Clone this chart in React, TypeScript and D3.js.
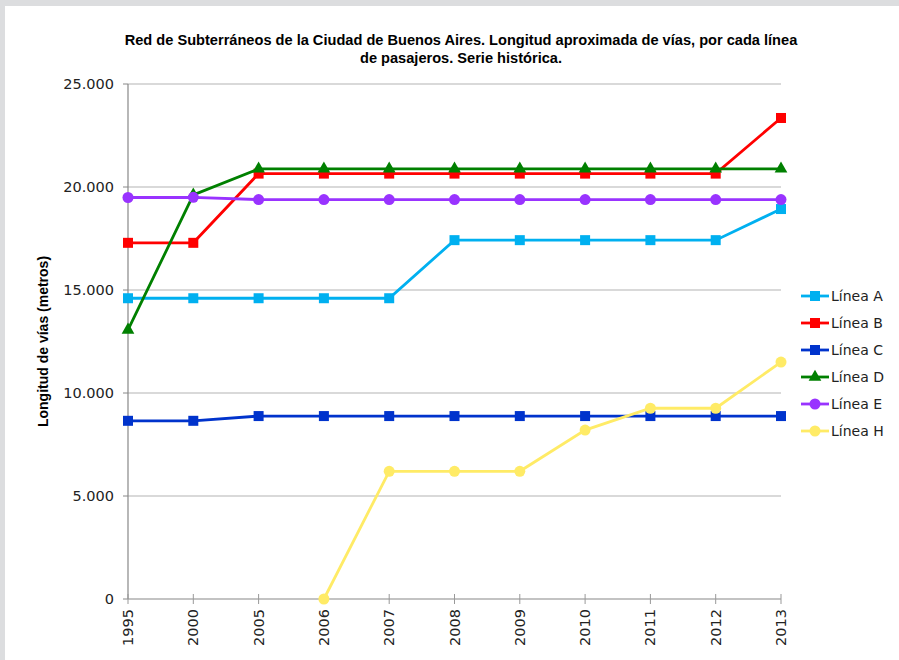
import * as d3 from "d3";

const W = 899;
const H = 660;
const M = { top: 84, right: 118, bottom: 61, left: 128 };

const YEARS = ["1995", "2000", "2005", "2006", "2007", "2008", "2009", "2010", "2011", "2012", "2013"];
const Y_TICKS = [0, 5000, 10000, 15000, 20000, 25000];

const LINEA_A = [14600, 14600, 14600, 14600, 14600, 17420, 17420, 17420, 17420, 17420, 18930];
const LINEA_B = [17290, 17290, 20650, 20650, 20650, 20650, 20650, 20650, 20650, 20650, 23350];
const LINEA_C = [8650, 8650, 8880, 8880, 8880, 8880, 8880, 8880, 8880, 8880, 8880];
const LINEA_D = [13060, 19620, 20880, 20880, 20880, 20880, 20880, 20880, 20880, 20880, 20880];
const LINEA_E = [19490, 19500, 19390, 19390, 19390, 19390, 19390, 19390, 19390, 19390, 19390];
const LINEA_H = [null, null, null, 0, 6200, 6200, 6200, 8200, 9260, 9260, 11500];

type Marker = "square" | "triangle" | "circle";
interface Serie {
  name: string;
  values: (number | null)[];
  color: string;
  marker: Marker;
}

const SERIES: Serie[] = [
  { name: "Línea A", values: LINEA_A, color: "#00b0f0", marker: "square" },
  { name: "Línea B", values: LINEA_B, color: "#ff0000", marker: "square" },
  { name: "Línea C", values: LINEA_C, color: "#0033cc", marker: "square" },
  { name: "Línea D", values: LINEA_D, color: "#008000", marker: "triangle" },
  { name: "Línea E", values: LINEA_E, color: "#9933ff", marker: "circle" },
  { name: "Línea H", values: LINEA_H, color: "#ffeb66", marker: "circle" },
];

const fmt = (v: number) => d3.format(",")(v).replace(/,/g, ".");

function MarkerShape({ type, x, y, color }: { type: Marker; x: number; y: number; color: string }) {
  if (type === "square") return <rect x={x - 5} y={y - 5} width={10} height={10} fill={color} />;
  if (type === "circle") return <circle cx={x} cy={y} r={5.5} fill={color} />;
  const tri = d3.symbol(d3.symbolTriangle, 70)() as string;
  return <path d={tri} transform={`translate(${x},${y})`} fill={color} />;
}

export default function App() {
  const x = d3
    .scalePoint<string>()
    .domain(YEARS)
    .range([M.left, W - M.right]);
  const y = d3
    .scaleLinear()
    .domain([0, 25000])
    .range([H - M.bottom, M.top]);

  const line = d3
    .line<number | null>()
    .defined((d) => d !== null)
    .x((_, i) => x(YEARS[i])!)
    .y((d) => y(d as number));

  const axisFont = "'DejaVu Sans', sans-serif";
  const condFont = "'Liberation Sans Narrow', 'Liberation Sans', sans-serif";

  return (
    <svg
      width={W}
      height={H}
      style={{ position: "absolute", left: 0, top: 0, display: "block" }}
    >
      <rect x={0} y={0} width={W} height={H} fill="#dcdddf" />
      <rect x={5} y={6} width={W - 5} height={H - 6} fill="#ffffff" />

      <text
        x={461}
        y={45}
        textAnchor="middle"
        fontFamily={condFont}
        fontWeight="bold"
        fontSize={14.6}
        fill="#000"
      >
        <tspan x={461}>Red de Subterráneos de la Ciudad de Buenos Aires. Longitud aproximada de vías, por cada línea</tspan>
        <tspan x={461} dy={18}>de pasajeros. Serie histórica.</tspan>
      </text>

      {Y_TICKS.map((t) => (
        <g key={t}>
          {t > 0 && (
            <line x1={M.left} x2={W - M.right} y1={y(t)} y2={y(t)} stroke="#b4b4b4" strokeWidth={1.2} />
          )}
          <line x1={M.left - 5} x2={M.left} y1={y(t)} y2={y(t)} stroke="#888" />
          <text
            x={M.left - 14}
            y={y(t)}
            dy="0.35em"
            textAnchor="end"
            fontFamily={axisFont}
            fontSize={14.5}
            fill="#222"
          >
            {fmt(t)}
          </text>
        </g>
      ))}

      <line x1={M.left} x2={M.left} y1={M.top} y2={H - M.bottom} stroke="#888" strokeWidth={1.2} />
      <line x1={M.left} x2={W - M.right} y1={H - M.bottom} y2={H - M.bottom} stroke="#888" strokeWidth={1.2} />

      {YEARS.map((yr) => (
        <g key={yr}>
          <line x1={x(yr)} x2={x(yr)} y1={H - M.bottom - 5} y2={H - M.bottom + 5} stroke="#999" />
          <text
            transform={`translate(${x(yr)! + 5},${H - M.bottom + 10}) rotate(-90)`}
            textAnchor="end"
            fontFamily={axisFont}
            fontSize={14.5}
            fill="#222"
          >
            {yr}
          </text>
        </g>
      ))}

      <text
        transform={`translate(48,${(M.top + H - M.bottom) / 2}) rotate(-90)`}
        textAnchor="middle"
        fontFamily={condFont}
        fontWeight="bold"
        fontSize={14}
        fill="#000"
      >
        Longitud de vías (metros)
      </text>

      {SERIES.map((s) => (
        <g key={s.name}>
          <path d={line(s.values) ?? ""} fill="none" stroke={s.color} strokeWidth={2.8} />
          {s.values.map((v, i) =>
            v === null ? null : (
              <MarkerShape key={i} type={s.marker} x={x(YEARS[i])!} y={y(v)} color={s.color} />
            )
          )}
        </g>
      ))}

      {SERIES.map((s, i) => {
        const ly = 296 + i * 27;
        return (
          <g key={s.name}>
            <line x1={801} x2={829} y1={ly} y2={ly} stroke={s.color} strokeWidth={2.8} />
            <MarkerShape type={s.marker} x={815} y={ly} color={s.color} />
            <text x={831} y={ly} dy="0.35em" fontFamily={axisFont} fontSize={14} fill="#222">
              {s.name}
            </text>
          </g>
        );
      })}
    </svg>
  );
}
